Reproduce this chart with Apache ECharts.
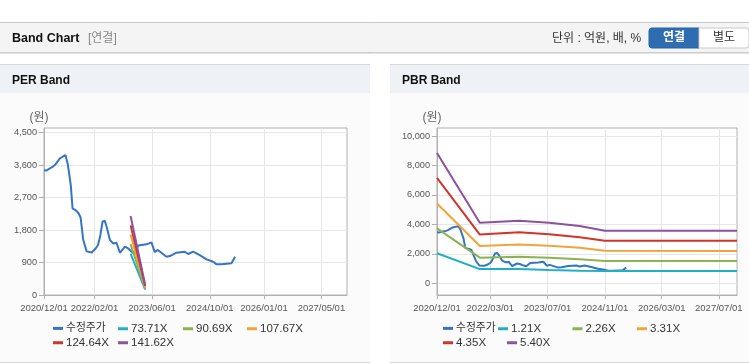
<!DOCTYPE html>
<html><head><meta charset="utf-8">
<script src="https://cdn.jsdelivr.net/npm/echarts@6/dist/echarts.min.js"></script>
<style>html,body{margin:0;padding:0;background:#fff}#c{width:749px;height:364px}</style>
</head><body><div id="c"></div>
<script>
// ---- data ----
const priceName = '수정주가';
const priceDates = ['2020-12-01','2020-12-20','2021-01-20','2021-02-15','2021-03-05','2021-04-14','2021-05-10','2021-06-01','2021-06-20','2021-07-15','2021-07-30','2021-09-01','2021-09-20','2021-10-06','2021-10-28','2021-11-26','2022-01-08','2022-02-10','2022-03-01','2022-03-20','2022-04-09','2022-04-28','2022-05-15','2022-06-10','2022-07-07','2022-08-05','2022-09-03','2022-10-15','2022-11-12','2022-12-10','2023-01-01','2023-02-04','2023-04-15','2023-05-27','2023-06-24','2023-07-20','2023-08-05','2023-10-01','2023-10-29','2023-12-25','2024-03-03','2024-04-01','2024-05-13','2024-07-08','2024-09-03','2024-10-29','2024-11-27','2025-01-08','2025-01-20','2025-04-02','2025-04-15','2025-05-02'];
const priceValues = [3460,3450,3510,3560,3610,3790,3840,3878,3620,3050,2400,2330,2260,2150,1530,1210,1180,1290,1380,1620,2030,2058,1880,1530,1430,1450,1170,1340,1290,1200,1150,1370,1404,1460,1190,1250,1230,1061,1080,1172,1200,1136,1200,1108,989,922,850,850,878,878,930,1061];

const perBandNames = ['73.71X','90.69X','107.67X','124.64X','141.62X'];
const perBandDates = ['2022-12-02','2023-04-04'];
const perBand1 = [1150,150];
const perBand2 = [1410,180];
const perBand3 = [1670,215];
const perBand4 = [1930,250];
const perBand5 = [2190,285];

const pbrBandNames = ['1.21X','2.26X','3.31X','4.35X','5.40X'];
const pbrBandDates = ['2020-12-01','2021-12-01','2022-11-01','2023-07-15','2024-04-01','2024-11-01','2027-12-03'];
const pbrBand1 = [2034,960,960,900,854,834,834];
const pbrBand2 = [3729,1740,1803,1736,1627,1512,1512];
const pbrBand3 = [5424,2529,2630,2549,2414,2200,2190];
const pbrBand4 = [7160,3310,3458,3322,3119,2890,2880];
const pbrBand5 = [8855,4110,4244,4110,3885,3567,3567];

const perXTicks = ['2020-12-01','2022-02-01','2023-06-01','2024-10-01','2026-01-01','2027-05-01'];
const pbrXTicks = ['2020-12-01','2022-03-01','2023-07-01','2024-11-01','2026-03-01','2027-07-01'];
const perYTicks = [0,900,1800,2700,3600,4500];
const pbrYTicks = [0,2000,4000,6000,8000,10000];

const colors = ['#3575c4','#1fb0c7','#8db34f','#f2a43a','#d0352b','#8c529d'];

// ---- helpers ----
const t = s => { const [y,m,d] = s.split('-').map(Number); return Date.UTC(y, m-1, d); };
const pair = (dates, vals) => dates.map((d,i) => [t(d), vals[i]]);
const fmtDate = v => { const d = new Date(v); const p = n => String(n).padStart(2,'0'); return d.getUTCFullYear()+'/'+p(d.getUTCMonth()+1)+'/'+p(d.getUTCDate()); };
const FONT = '"Liberation Sans", Arial, "Noto Sans CJK KR", sans-serif';
const KFONT = '"Liberation Sans", "Noto Sans CJK KR", sans-serif';

function xAxisCfg(gridIndex, ticks){
  const vals = ticks.map(t);
  return {
    type:'value', gridIndex, min:t('2020-12-01'), max:t('2027-12-03'), scale:true,
    axisLine:{show:true, onZero:false, lineStyle:{color:'#b0b0b0'}},
    axisTick:{show:true, length:4, customValues:vals, lineStyle:{color:'#b0b0b0'}},
    axisLabel:{customValues:vals, formatter:fmtDate, color:'#555', fontSize:9.5, fontFamily:FONT, margin:9, hideOverlap:false, showMinLabel:true, showMaxLabel:true},
    splitLine:{show:true, lineStyle:{color:'#e6e6e6'}}
  };
}
function yAxisCfg(gridIndex, ticks, min, max){
  return {
    type:'value', gridIndex, min, max,
    name:'(원)', nameLocation:'end', nameGap:4,
    nameTextStyle:{color:'#666', fontSize:12, fontFamily:KFONT, padding:[0,10,0,0]},
    axisLine:{show:true, lineStyle:{color:'#b0b0b0'}},
    axisTick:{show:true, length:5, customValues:ticks, lineStyle:{color:'#b0b0b0'}},
    axisLabel:{customValues:ticks, formatter:v=>v.toLocaleString('en-US'), color:'#555', fontSize:9.2, fontFamily:FONT, margin:7},
    splitLine:{show:true, lineStyle:{color:'#e6e6e6'}}
  };
}
function lineSeries(name, data, xi, color){
  return {type:'line', name, xAxisIndex:xi, yAxisIndex:xi, data, showSymbol:false, symbol:'none',
    lineStyle:{width:2, color}, itemStyle:{color}, animation:false};
}
function leg(name, left, cy){
  return {data:[name], left, top:cy-7, itemWidth:10, itemHeight:3, icon:'rect', itemGap:0, padding:0,
    textStyle:{fontSize:11.5, color:'#333', fontFamily:KFONT, padding:[0,0,0,-2]}};
}

const perBands = [perBand1,perBand2,perBand3,perBand4,perBand5];
const pbrBands = [pbrBand1,pbrBand2,pbrBand3,pbrBand4,pbrBand5];

const series = [lineSeries(priceName, pair(priceDates, priceValues), 0, colors[0])];
perBands.forEach((b,i)=>series.push(lineSeries(perBandNames[i], pair(perBandDates,b), 0, colors[i+1])));
series.push(lineSeries(priceName, pair(priceDates, priceValues), 1, colors[0]));
pbrBands.forEach((b,i)=>series.push(lineSeries(pbrBandNames[i], pair(pbrBandDates,b), 1, colors[i+1])));

const txt = (x,y,text,opt) => ({type:'text', x, y, z:5, style:Object.assign({text, fill:'#333', font:'12px '+KFONT, textVerticalAlign:'middle'}, opt||{})});
const rect = (x,y,w,h,fill,stroke,extra) => ({type:'rect', z:-10, shape:Object.assign({x,y,width:w,height:h}, extra||{}), style:{fill, stroke:stroke||null, lineWidth:1}});
const hline = (x1,x2,y,color) => ({type:'line', z:-9, shape:{x1,y1:y,x2,y2:y}, style:{stroke:color, lineWidth:1}});

const graphic = [
  rect(0,22,749,31,'#f4f4f4'),
  hline(0,749,22.5,'#c8c8c8'),
  hline(0,749,52.5,'#cccccc'),
  hline(0,749,53.5,'#e4e4e4'),
  txt(12,38.5,'Band Chart',{font:'bold 12.5px '+KFONT, fill:'#111'}),
  txt(88,38.5,'[연결]',{font:'12px '+KFONT, fill:'#888'}),
  txt(552,38.5,'단위 : 억원, 배, %',{font:'12px '+KFONT, fill:'#333'}),
  {type:'rect', z:-8, shape:{x:649,y:28,width:50,height:20,r:[3,0,0,3]}, style:{fill:'#2f6db3', stroke:'#2a63a3'}},
  {type:'rect', z:-8, shape:{x:699,y:28,width:50,height:20,r:[0,3,3,0]}, style:{fill:'#fff', stroke:'#c8c8c8'}},
  txt(674,38,'연결',{font:'bold 12px '+KFONT, fill:'#fff', textAlign:'center'}),
  txt(724,38,'별도',{font:'12px '+KFONT, fill:'#333', textAlign:'center'}),
  rect(0,64.5,370,298,'#fbfbfb'),
  rect(0,65,370,28,'#eef2f7'),
  hline(0,370,64.5,'#d8d8d8'),
  hline(0,370,362.5,'#d8d8d8'),
  txt(12,80.5,'PER Band',{font:'bold 12px '+KFONT, fill:'#111'}),
  rect(390,64.5,359,298,'#fbfbfb'),
  rect(390,65,359,28,'#eef2f7'),
  hline(390,749,64.5,'#d8d8d8'),
  hline(390,749,362.5,'#d8d8d8'),
  txt(402,80.5,'PBR Band',{font:'bold 12px '+KFONT, fill:'#111'})
];

const legends = [
  leg(priceName,53,330), leg(perBandNames[0],118,330), leg(perBandNames[1],183,330), leg(perBandNames[2],247,330),
  leg(perBandNames[3],53,344), leg(perBandNames[4],118,344),
  leg(priceName,443,330), leg(pbrBandNames[0],498,330), leg(pbrBandNames[1],572.5,330), leg(pbrBandNames[2],637,330),
  leg(pbrBandNames[3],443,344), leg(pbrBandNames[4],507,344)
];
legends.forEach(l => { if (l.data[0] === priceName) { l.textStyle.fontSize = 10.8; } });

const chart = echarts.init(document.getElementById('c'));
chart.setOption({
  animation:false,
  backgroundColor:'#fff',
  graphic,
  legend: legends,
  grid:[
    {left:44, top:128, width:303, height:167, show:true, backgroundColor:'#fff', borderColor:'#b0b0b0', borderWidth:1},
    {left:437, top:128, width:300, height:167, show:true, backgroundColor:'#fff', borderColor:'#b0b0b0', borderWidth:1}
  ],
  xAxis:[xAxisCfg(0, perXTicks), xAxisCfg(1, pbrXTicks)],
  yAxis:[yAxisCfg(0, perYTicks, 0, 4630), yAxisCfg(1, pbrYTicks, -800, 10550)],
  series
});
</script></body></html>
